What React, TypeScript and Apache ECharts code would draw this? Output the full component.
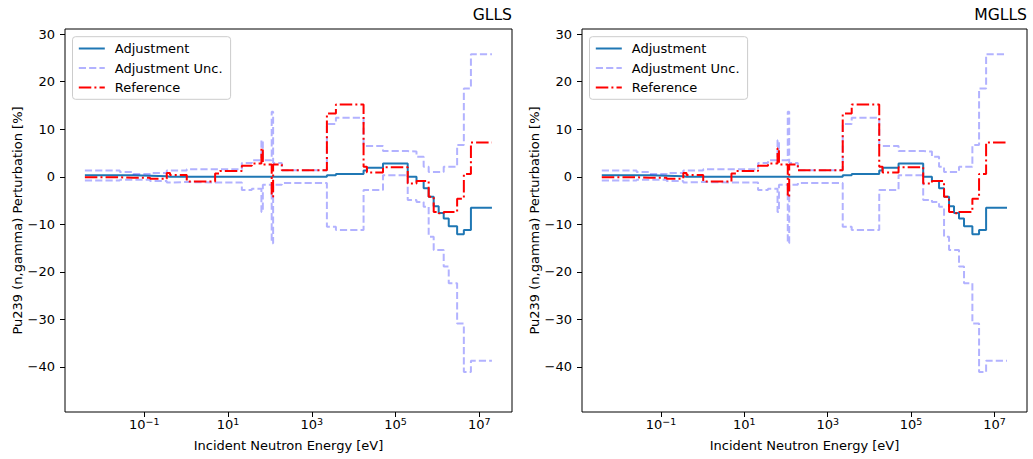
import React, { useEffect, useRef } from "react";
import * as echarts from "echarts";

// Group boundaries (eV)
const energyBounds = [
  0.0038, 0.026, 0.054, 0.137, 0.343, 0.411, 1.03, 4.9, 6.4, 21.3, 36.9, 62.5,
  67.6, 110, 119, 192, 2290, 3760, 17200, 20700, 50000, 195000, 316000, 468000,
  617000, 813000, 1.07e6, 1.41e6, 1.86e6, 2.95e6, 4.27e6, 6.3e6, 2.0e7,
];
// Values per group (%)
const adjustment = [
  0.3, 0.3, 0.2, 0.1, 0, 0, 0, 0, 0, 0, 0, 0, 0, 0, 0, 0, 0.3, 0.6, 1.3, 1.9,
  2.8, 0, -0.9, -2.4, -4.2, -6.2, -7.6, -8.8, -10.4, -12.1, -11.2, -6.5,
];
const adjUncUpper = [
  1.3, 1.0, 0.6, 0.8, 1.3, 1.3, 1.6, 1.6, 1.6, 2.9, 3.5, 7.7, 3.5, 13.7, 2.9,
  1.4, 11.1, 12.4, 6.5, 6.5, 5.4, 5.3, 4.2, 2.1, 1.0, 1.0, 1.0, 2.1, 2.1, 6.7,
  18.6, 25.8,
];
const adjUncLower = [
  -0.8, -0.6, -0.6, -0.9, -1.2, -1.1, -1.2, -1.2, -1.2, -2.8, -2.5, -7.4, -1.7,
  -14.0, -1.7, -1.3, -10.5, -11.2, -2.8, -2.8, 0.3, -4.9, -5.3, -6.3, -12.6,
  -15.4, -15.4, -18.9, -22.4, -30.9, -41.1, -38.7,
];
const reference = [
  -0.1, -0.2, -0.2, -0.4, 0.8, 0.4, -1.0, 0.7, 1.2, 2.3, 2.8, 6.0, 2.6, -4.2,
  2.6, 1.4, 13.3, 15.2, 2.1, 0.9, 2.0, -1.4, -0.9, -0.9, -4.2, -7.4, -7.7,
  -7.4, -7.4, -4.6, 0.6, 7.2,
];
const panelTitles = ["GLLS", "MGLLS"];
const xTickValues = [0.1, 10, 1000, 1e5, 1e7];
const yTickValues = [-40, -30, -20, -10, 0, 10, 20, 30];
const xRange = [0.001274, 6.03e7];
const yRange = [-49.5, 31.1];
const xAxisName = "Incident Neutron Energy [eV]";
const yAxisName = "Pu239 (n,gamma) Perturbation [%]";
const legendNames = ["Adjustment", "Adjustment Unc.", "Reference"];

const FONT = "DejaVu Sans";

function stepData(vals: number[]) {
  return energyBounds.map((b, i) => [b, vals[Math.min(i, vals.length - 1)]]);
}

function fmtY(v: number) {
  return v < 0 ? "\u2212" + -v : String(v);
}
function fmtX(v: number) {
  const e = Math.round(Math.log10(v));
  return "10{sup|" + (e < 0 ? "\u2212" + -e : String(e)) + "}";
}

export default function App() {
  const ref = useRef<HTMLDivElement>(null);
  useEffect(() => {
    if (!ref.current) return;
    const chart = echarts.init(ref.current, undefined, { renderer: "svg" });
    const grids = [
      { left: 65, top: 29, width: 447, height: 383 },
      { left: 582, top: 29, width: 445, height: 383 },
    ];
    const xAxes: any[] = [];
    const yAxes: any[] = [];
    const series: any[] = [];
    const legends: any[] = [];
    const titles: any[] = [];
    grids.forEach((g, gi) => {
      xAxes.push({
        type: "log",
        logBase: 10,
        gridIndex: gi,
        min: xRange[0],
        max: xRange[1],
        name: xAxisName,
        nameLocation: "middle",
        nameGap: 27,
        nameTextStyle: { fontFamily: FONT, fontSize: 13, color: "#000" },
        axisLine: { show: false, onZero: false },
        axisTick: {
          show: true,
          length: 5,
          lineStyle: { color: "#000", width: 1 },
          customValues: xTickValues,
        },
        axisLabel: {
          show: true,
          margin: 4,
          color: "#000",
          fontFamily: FONT,
          fontSize: 13,
          customValues: xTickValues,
          formatter: (v: number) => fmtX(v),
          rich: {
            sup: { fontSize: 9.5, fontFamily: FONT, color: "#000", verticalAlign: "top", padding: [0, 0, 6, 0] },
          },
        },
        splitLine: { show: false },
        minorTick: { show: false },
      });
      yAxes.push({
        type: "value",
        gridIndex: gi,
        min: yRange[0],
        max: yRange[1],
        name: yAxisName,
        nameLocation: "middle",
        nameGap: 41,
        nameTextStyle: { fontFamily: FONT, fontSize: 13, color: "#000" },
        axisLine: { show: false, onZero: false },
        axisTick: {
          show: true,
          length: 5,
          lineStyle: { color: "#000", width: 1 },
          customValues: yTickValues,
        },
        axisLabel: {
          show: true,
          margin: 10,
          color: "#000",
          fontFamily: FONT,
          fontSize: 13,
          customValues: yTickValues,
          formatter: (v: number) => fmtY(v),
        },
        splitLine: { show: false },
      });
      series.push({
        type: "line",
        name: legendNames[0],
        xAxisIndex: gi,
        yAxisIndex: gi,
        step: "end",
        symbol: "none",
        data: stepData(adjustment),
        lineStyle: { color: "#1f77b4", width: 2 },
        itemStyle: { color: "rgba(0,0,0,0)" },
      });
      [adjUncUpper, adjUncLower].forEach((arr) => {
        series.push({
          type: "line",
          name: legendNames[1],
          xAxisIndex: gi,
          yAxisIndex: gi,
          step: "end",
          symbol: "none",
          data: stepData(arr),
          lineStyle: { color: "rgba(0,0,255,0.3)", width: 2, type: [7.2, 3.1] },
          itemStyle: { color: "rgba(0,0,0,0)" },
        });
      });
      series.push({
        type: "line",
        name: legendNames[2],
        xAxisIndex: gi,
        yAxisIndex: gi,
        step: "end",
        symbol: "none",
        data: stepData(reference),
        lineStyle: { color: "#ff0000", width: 2, type: [12.5, 3.1, 2, 3.1] },
        itemStyle: { color: "rgba(0,0,0,0)" },
      });
      legends.push({
        data: legendNames,
        orient: "vertical",
        left: g.left + 7.5,
        top: 36.7,
        itemWidth: 26,
        itemHeight: 13,
        itemGap: 6.5,
        padding: [5.3, 8, 5.3, 5.3],
        backgroundColor: "rgba(255,255,255,0.8)",
        borderColor: "#cccccc",
        borderWidth: 1,
        borderRadius: 3,
        selectedMode: false,
        itemStyle: { opacity: 0 },
        textStyle: { fontFamily: FONT, fontSize: 13, color: "#000", padding: [0, 0, 0, 5] },
      });
      titles.push({
        text: panelTitles[gi],
        right: 1033 - (g.left + g.width),
        top: 7,
        padding: 0,
        textStyle: { fontFamily: FONT, fontSize: 15.6, fontWeight: "normal", color: "#000" },
      });
    });
    chart.setOption({
      animation: false,
      backgroundColor: "#fff",
      textStyle: { fontFamily: FONT },
      title: titles,
      grid: grids.map((g) => ({
        ...g,
        show: true,
        borderColor: "#000",
        borderWidth: 1,
        backgroundColor: "transparent",
        containLabel: false,
      })),
      legend: legends,
      xAxis: xAxes,
      yAxis: yAxes,
      series,
    });
    return () => chart.dispose();
  }, []);
  return (
    <div
      ref={ref}
      style={{ position: "fixed", left: 0, top: 0, width: 1033, height: 459 }}
    />
  );
}
